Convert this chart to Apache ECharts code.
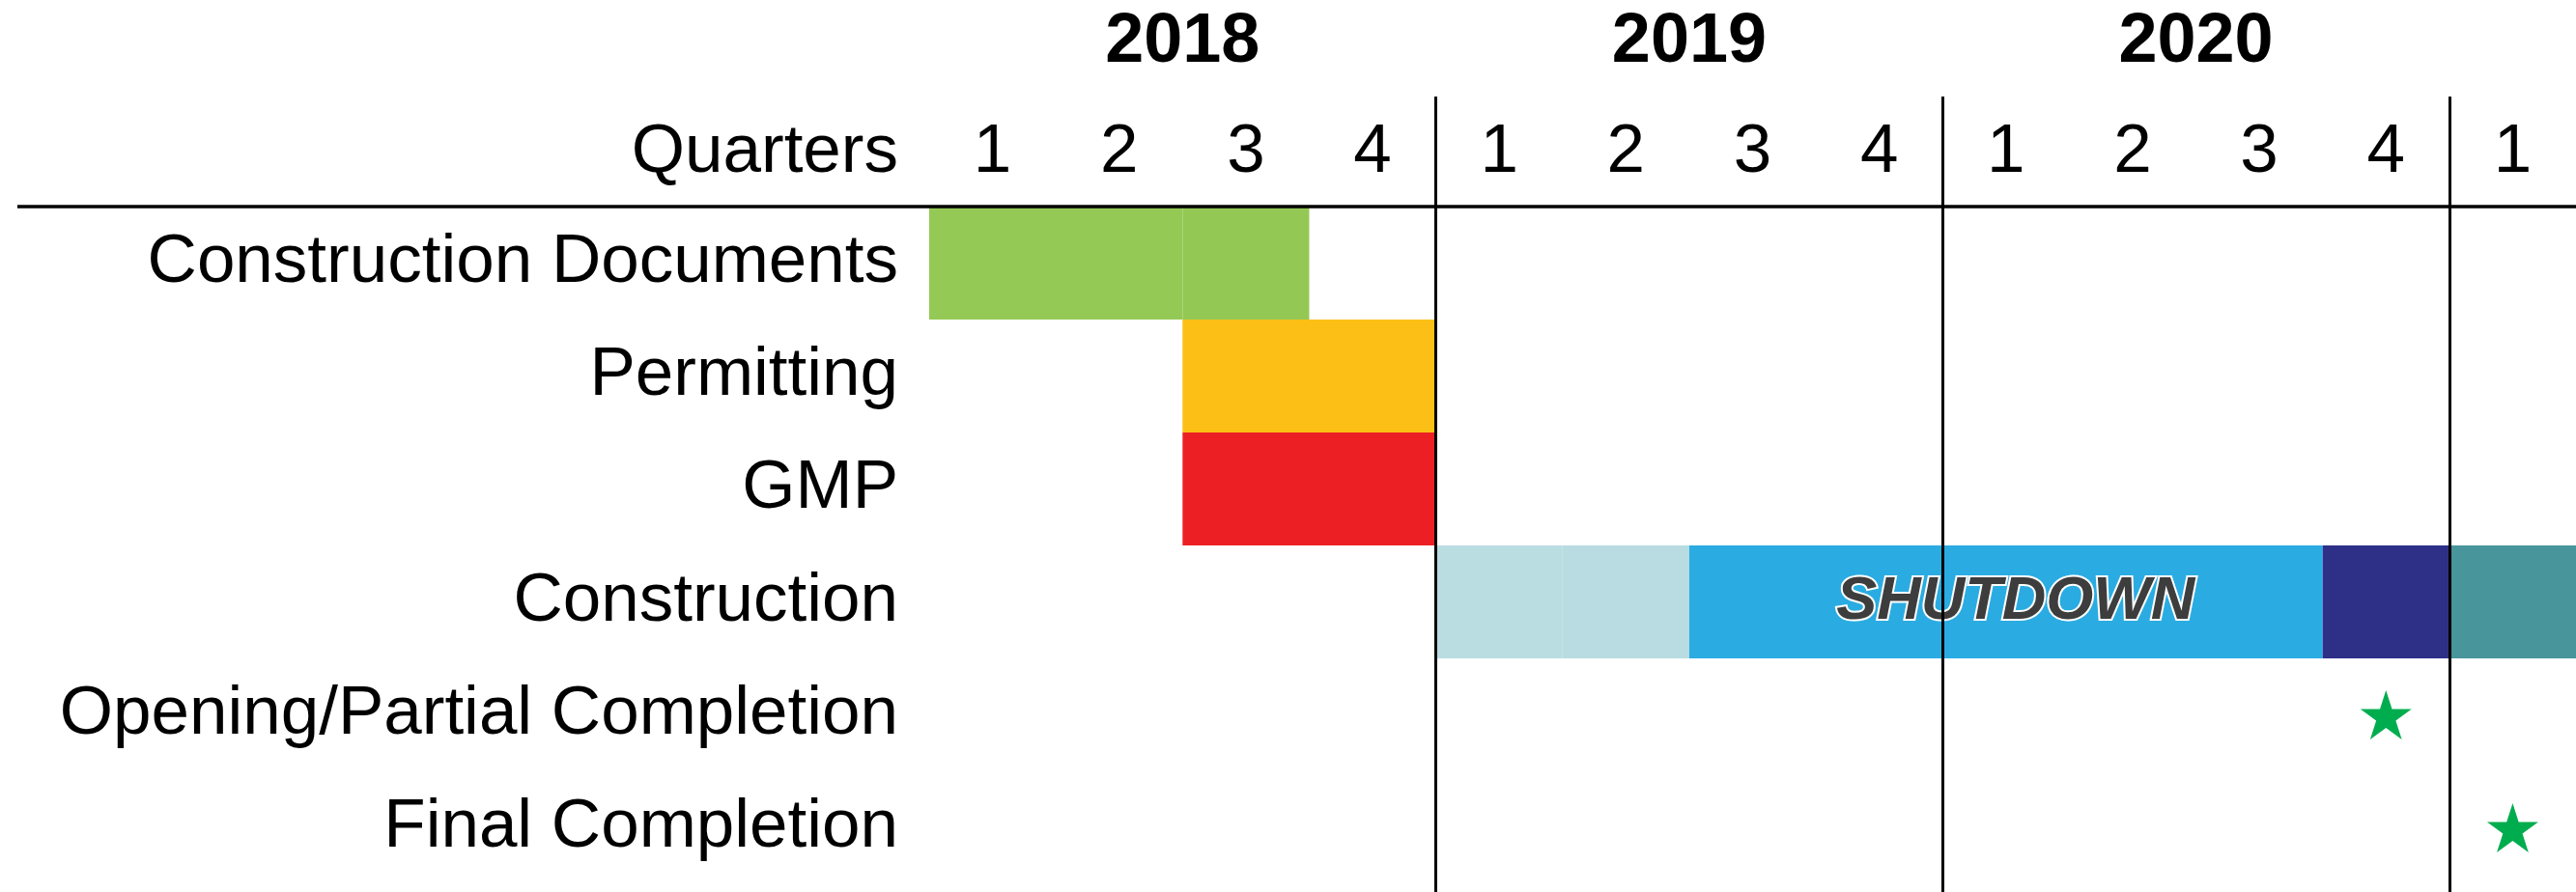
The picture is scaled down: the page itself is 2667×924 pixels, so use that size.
<!DOCTYPE html>
<html>
<head>
<meta charset="utf-8">
<script src="https://cdn.jsdelivr.net/npm/echarts@6/dist/echarts.min.js"></script>
<style>
  html, body { margin: 0; padding: 0; background: #fff; }
  #chart { width: 2667px; height: 924px; }
</style>
</head>
<body>
<div id="chart"></div>
<script>
// schedule, in quarters counted from the start of 2018
const tasks = [
  "Construction Documents",
  "Permitting",
  "GMP",
  "Construction",
  "Opening/Partial Completion",
  "Final Completion",
];
const years = ["2018", "2019", "2020"];
const quarterLabels = ["1", "2", "3", "4", "1", "2", "3", "4", "1", "2", "3", "4", "1"];

const segTask = [0, 0, 1, 2, 3, 3, 3, 3, 3];
const segStart = [0, 2, 2, 2, 4, 5, 6, 11, 12];
const segEnd = [2, 3, 4, 4, 5, 6, 11, 12, 13];
const segNote = ["", "", "", "", "", "", "SHUTDOWN", "", ""];

const milestoneTask = [4, 5];
const milestoneAt = [11.5, 12.5];

// styles
const segColors = [
  "#95c955", "#94c854", "#fbbf15", "#ec2024",
  "#badde2", "#b8dce1", "#2aace2", "#2e3088", "#48959c",
];
const font = "'Liberation Sans', Arial, sans-serif";
const textColor = "#000";
const starColor = "#00ad4e";
const starPath =
  "path://M50,0 L61.2,34.5 L97.6,34.5 L68.2,55.9 L79.4,90.5 L50,69.1 L20.6,90.5 L31.8,55.9 L2.4,34.5 L38.8,34.5 Z";

const gridLeft = 962;
const gridTop = 214;
const gridHeight = 702;
const totalQuarters = quarterLabels.length;

const segData = segTask.map((t, i) => [t, segStart[i], segEnd[i], i]);
const starData = milestoneTask.map((t, i) => [milestoneAt[i], t]);

const renderSegment = (params, api) => {
  const idx = api.value(3);
  const a = api.coord([api.value(1), api.value(0)]);
  const b = api.coord([api.value(2), api.value(0)]);
  const h = api.size([0, 1])[1];
  const el = {
    type: "rect",
    shape: { x: a[0], y: a[1] - h / 2, width: b[0] - a[0], height: h },
    style: { fill: segColors[idx] },
  };
  if (segNote[idx]) {
    el.textContent = {
      style: {
        text: segNote[idx],
        fontFamily: font,
        fontSize: 63,
        fontWeight: "bold",
        fontStyle: "italic",
        fill: "#3d3d3d",
        stroke: "#fff",
        lineWidth: 4,
      },
    };
    el.textConfig = { position: "inside", offset: [10, 0] };
  }
  return el;
};

const chart = echarts.init(document.getElementById("chart"), null, { renderer: "canvas" });

const option = {
  backgroundColor: "#fff",
  animation: false,
  grid: {
    left: gridLeft,
    right: 0,
    top: gridTop,
    height: gridHeight,
    containLabel: false,
    outerBoundsMode: "none",
  },
  xAxis: [
    {
      type: "value",
      min: 0,
      max: totalQuarters,
      position: "top",
      show: false,
    },
    {
      // quarter row
      type: "category",
      data: quarterLabels,
      position: "top",
      offset: 56,
      axisLine: { show: false },
      axisTick: { show: false },
      splitLine: { show: false },
      axisLabel: {
        margin: 0,
        verticalAlign: "middle",
        padding: [7, 0, 0, 0],
        color: textColor,
        fontFamily: font,
        fontSize: 71,
        interval: 0,
      },
      name: "Quarters",
      nameLocation: "start",
      nameGap: 32,
      nameTextStyle: {
        color: textColor,
        fontFamily: font,
        fontSize: 71,
        padding: [7, 0, 0, 0],
      },
    },
    {
      // year row + year dividers
      type: "value",
      min: 0,
      max: totalQuarters,
      position: "top",
      offset: 114,
      z: 10,
      axisLine: { show: false },
      splitLine: { show: false },
      axisTick: {
        show: true,
        inside: true,
        length: 824,
        customValues: [4, 8, 12],
        lineStyle: { color: "#000", width: 3 },
      },
      axisLabel: {
        customValues: years.map((y, i) => i * 4 + 2),
        formatter: (v) => years[(v - 2) / 4],
        margin: 56,
        verticalAlign: "middle",
        padding: [7, 0, 0, 0],
        color: textColor,
        fontFamily: font,
        fontSize: 72,
        fontWeight: "bold",
      },
    },
  ],
  yAxis: {
    type: "category",
    data: tasks,
    inverse: true,
    axisLine: { show: false },
    axisTick: { show: false },
    splitLine: { show: false },
    axisLabel: {
      margin: 32,
      padding: [10, 0, 0, 0],
      color: textColor,
      fontFamily: font,
      fontSize: 71,
      interval: 0,
    },
  },
  graphic: [
    {
      type: "line",
      z: 20,
      shape: { x1: 18, y1: gridTop, x2: 2667, y2: gridTop },
      style: { stroke: "#000", lineWidth: 3.5 },
    },
  ],
  series: [
    {
      name: "schedule",
      type: "custom",
      xAxisIndex: 0,
      yAxisIndex: 0,
      renderItem: renderSegment,
      encode: { x: [1, 2], y: 0 },
      data: segData,
    },
    {
      name: "milestones",
      type: "scatter",
      xAxisIndex: 0,
      yAxisIndex: 0,
      symbol: starPath,
      symbolSize: [53, 51],
      itemStyle: { color: starColor, opacity: 1 },
      data: starData,
    },
  ],
};

chart.setOption(option);
</script>
</body>
</html>
